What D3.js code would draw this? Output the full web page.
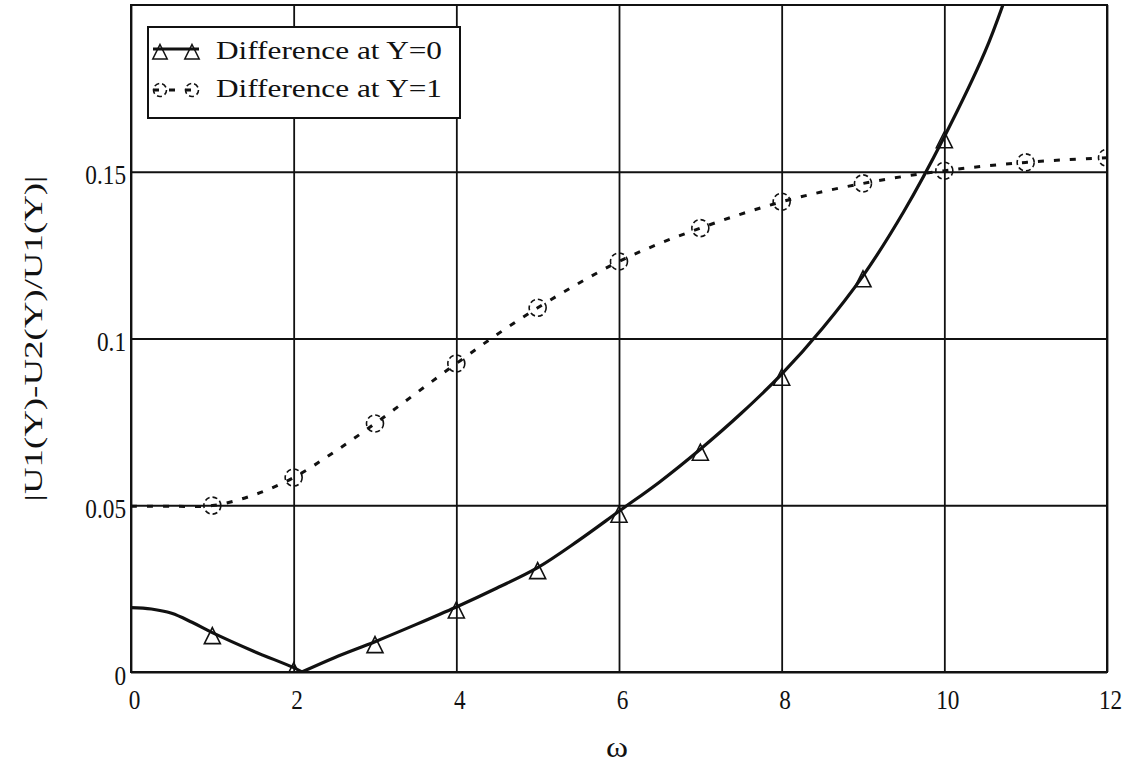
<!DOCTYPE html>
<html>
<head>
<meta charset="utf-8">
<script src="https://cdn.jsdelivr.net/npm/d3@7"></script>
<style>
  body { margin: 0; background: #fff; }
  svg text { font-family: "Liberation Serif", "Times New Roman", serif; fill: #111; }
</style>
</head>
<body>
<svg id="chart" width="1134" height="767"></svg>
<script>
// Relative difference |U1(Y)-U2(Y)|/U1(Y) versus frequency ω
const omegaY0 = [0, 0.25, 0.5, 0.75, 1, 1.5, 2, 2.1, 2.5, 3, 3.5, 4, 4.5, 5, 5.5, 6, 6.5, 7, 7.5, 8, 8.5, 9, 9.5, 10, 10.5, 10.72];
const diffY0  = [0.0193, 0.0189, 0.0176, 0.0149, 0.0118, 0.0063, 0.0013, 0, 0.0043, 0.0091, 0.0142, 0.0195, 0.0252, 0.0313, 0.0394, 0.0482, 0.0570, 0.0668, 0.0775, 0.0893, 0.1030, 0.1188, 0.1380, 0.1605, 0.1860, 0.2];

const omegaY1 = [0, 0.5, 1, 1.5, 2, 2.5, 3, 3.5, 4, 4.5, 5, 5.5, 6, 6.5, 7, 7.5, 8, 8.5, 9, 9.5, 10, 10.5, 11, 11.5, 12];
const diffY1  = [0.0497, 0.0497, 0.0499, 0.0530, 0.0583, 0.0660, 0.0745, 0.0835, 0.0925, 0.1012, 0.1092, 0.1165, 0.1231, 0.1285, 0.1331, 0.1373, 0.1410, 0.1440, 0.1465, 0.1486, 0.1503, 0.1517, 0.1528, 0.1536, 0.1542];

const seriesNames = ["Difference at Y=0", "Difference at Y=1"];
const xTicks = [0, 2, 4, 6, 8, 10, 12];
const yTicks = [0, 0.05, 0.1, 0.15];
const yTickLabels = ["0", "0.05", "0.1", "0.15"];
const xTitle = "ω";
const yTitle = "|U1(Y)-U2(Y)/U1(Y)|";

const W = 1134, H = 767;
const plot = { left: 131, right: 1107, top: 5, bottom: 672 };
const ink = "#111";

const x = d3.scaleLinear().domain([0, 12]).range([plot.left, plot.right]);
const y = d3.scaleLinear().domain([0, 0.2]).range([plot.bottom, plot.top]);

const svg = d3.select("#chart");
svg.append("rect").attr("width", W).attr("height", H).attr("fill", "#fff");

svg.append("defs").append("clipPath").attr("id", "plotClip")
  .append("rect")
  .attr("x", plot.left).attr("y", plot.top)
  .attr("width", plot.right - plot.left).attr("height", plot.bottom - plot.top);

// Grid + tick labels through the D3 axes
const gx = svg.append("g")
  .attr("transform", `translate(0,${plot.bottom})`)
  .call(d3.axisBottom(x).tickValues(xTicks).tickFormat(d3.format("d"))
    .tickSizeInner(-(plot.bottom - plot.top)).tickSizeOuter(0));
gx.select(".domain").remove();
gx.selectAll(".tick line").attr("stroke", ink).attr("stroke-width", 1.8);
gx.selectAll(".tick text")
  .attr("y", 37).attr("dy", null).attr("dx", 3)
  .attr("font-size", 28).attr("fill", ink);

const gy = svg.append("g")
  .attr("transform", `translate(${plot.left},0)`)
  .call(d3.axisLeft(y).tickValues(yTicks).tickFormat((d, i) => yTickLabels[i])
    .tickSizeInner(-(plot.right - plot.left)).tickSizeOuter(0).tickPadding(5));
gy.select(".domain").remove();
gy.selectAll(".tick line").attr("stroke", ink).attr("stroke-width", 1.8);
gy.selectAll(".tick text")
  .attr("dy", null).attr("y", 12).attr("x", -5)
  .attr("font-size", 28).attr("fill", ink);

// narrow the tick numerals a little
svg.selectAll(".tick text").each(function () {
  const len = this.getComputedTextLength();
  d3.select(this).attr("textLength", len * 0.83).attr("lengthAdjust", "spacingAndGlyphs");
});

// Plot frame
svg.append("rect")
  .attr("x", plot.left).attr("y", plot.top)
  .attr("width", plot.right - plot.left).attr("height", plot.bottom - plot.top)
  .attr("fill", "none").attr("stroke", ink).attr("stroke-width", 2);

const pts0 = omegaY0.map((w, i) => ({ w, v: diffY0[i] }));
const pts1 = omegaY1.map((w, i) => ({ w, v: diffY1[i] }));

const line = d3.line().x(d => x(d.w)).y(d => y(d.v)).curve(d3.curveCatmullRom.alpha(0.5));
const traces = svg.append("g").attr("clip-path", "url(#plotClip)");

// Y=0 trace has a sharp minimum: draw each side of it separately
const iMin = d3.minIndex(pts0, d => d.v);
[pts0.slice(0, iMin + 1), pts0.slice(iMin)].forEach(seg => {
  traces.append("path").datum(seg).attr("d", line)
    .attr("fill", "none").attr("stroke", ink).attr("stroke-width", 3.2)
    .attr("stroke-linejoin", "round");
});

traces.append("path").datum(pts1).attr("d", line)
  .attr("fill", "none").attr("stroke", ink).attr("stroke-width", 3)
  .attr("stroke-dasharray", "6 10");

// Symbols at integer ω
const tri = s => `M0,${-5 * s} L${8 * s},${11 * s} L${-8 * s},${11 * s} Z`;

traces.selectAll("path.tri").data(pts0.filter(d => Number.isInteger(d.w) && d.w > 0))
  .join("path").attr("class", "tri")
  .attr("transform", d => `translate(${x(d.w)},${y(d.v)})`)
  .attr("d", tri(1)).attr("fill", "none").attr("stroke", ink).attr("stroke-width", 1.6);

traces.selectAll("circle.circ").data(pts1.filter(d => Number.isInteger(d.w) && d.w > 0))
  .join("circle").attr("class", "circ")
  .attr("cx", d => x(d.w)).attr("cy", d => y(d.v)).attr("r", 8.5)
  .attr("fill", "none").attr("stroke", ink).attr("stroke-width", 1.6)
  .attr("stroke-dasharray", "5 3");

// Legend
const lg = svg.append("g");
lg.append("rect").attr("x", 148).attr("y", 27).attr("width", 312).attr("height", 91)
  .attr("fill", "#fff").attr("stroke", ink).attr("stroke-width", 2);

const rows = [
  { y: 49, base: 59, name: seriesNames[0], kind: "tri" },
  { y: 90, base: 97, name: seriesNames[1], kind: "circ" }
];
rows.forEach(r => {
  lg.append("line").attr("x1", 153).attr("x2", 199).attr("y1", r.y).attr("y2", r.y)
    .attr("stroke", ink).attr("stroke-width", 3)
    .attr("stroke-dasharray", r.kind === "circ" ? "6 10" : null);
  [160, 192].forEach(cx => {
    if (r.kind === "tri") {
      lg.append("path").attr("transform", `translate(${cx},${r.y})`).attr("d", tri(0.9))
        .attr("fill", "none").attr("stroke", ink).attr("stroke-width", 1.5);
    } else {
      lg.append("circle").attr("cx", cx).attr("cy", r.y).attr("r", 6.5)
        .attr("fill", "none").attr("stroke", ink).attr("stroke-width", 1.6)
        .attr("stroke-dasharray", "5 3");
    }
  });
  lg.append("text").attr("x", 216).attr("y", r.base).attr("font-size", 26)
    .attr("textLength", 226).attr("lengthAdjust", "spacingAndGlyphs").text(r.name);
});

// Axis titles
svg.append("text").attr("x", 617).attr("y", 757).attr("text-anchor", "middle")
  .attr("font-size", 30).attr("textLength", 22).attr("lengthAdjust", "spacingAndGlyphs")
  .text(xTitle);

svg.append("text").attr("transform", `translate(42,${(plot.top + plot.bottom) / 2}) rotate(-90)`)
  .attr("text-anchor", "middle").attr("font-size", 26)
  .attr("textLength", 326).attr("lengthAdjust", "spacingAndGlyphs").text(yTitle);
</script>
</body>
</html>
